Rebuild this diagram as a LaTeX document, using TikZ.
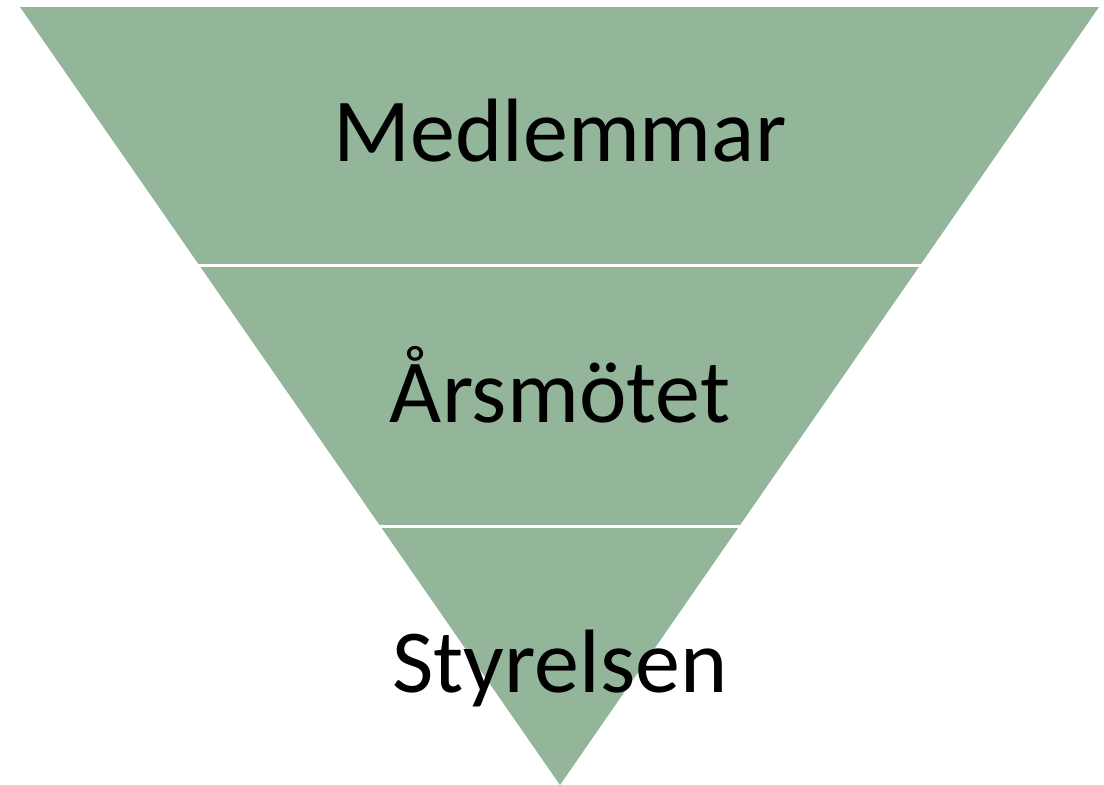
\documentclass[tikz,border=0pt]{standalone}
\usepackage{fontspec}
\setmainfont{Carlito}
\usetikzlibrary{calc}
\definecolor{sage}{RGB}{147,181,154}
\begin{document}
\begin{tikzpicture}[x=1pt,y=-1pt,
  label/.style={anchor=base,inner sep=0pt,font=\fontsize{90}{90}\selectfont},
  gap/.style={draw=white,line width=3pt,shorten <=-3pt,shorten >=-3pt}]
\useasboundingbox (0,0) rectangle (1104,785);
\coordinate (tl) at (20,7);
\coordinate (tr) at (1099,7);
\coordinate (apex) at (560,785);
\fill[sage] (tl) -- (tr) -- (apex) -- cycle;
\draw[gap] ($(tl)!0.3323!(apex)$) -- ($(tr)!0.3323!(apex)$);
\draw[gap] ($(tl)!0.6677!(apex)$) -- ($(tr)!0.6677!(apex)$);
\node[label] (m) at (560,161) {Medlemmar};
\node[label] (a) at (560,422) {Årsmötet};
\node[label] (s) at (560,692) {Styrelsen};
\end{tikzpicture}
\end{document}
